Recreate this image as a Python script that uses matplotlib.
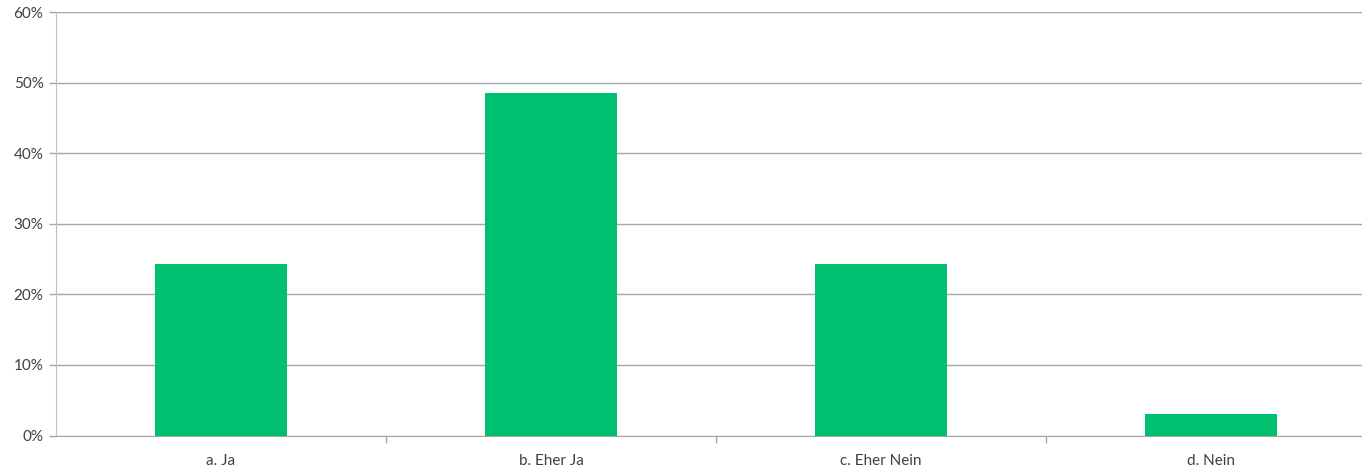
import matplotlib
matplotlib.use("Agg")
import matplotlib.pyplot as plt
from matplotlib.ticker import FuncFormatter, FixedLocator

categories = ["a. Ja", "b. Eher Ja", "c. Eher Nein", "d. Nein"]
values = [24.24, 48.48, 24.24, 3.03]

plt.rcParams['font.family'] = ['Lato', 'DejaVu Sans']

W, H = 1362, 466
fig = plt.figure(figsize=(W / 100, H / 100), dpi=100)
left, right, top, bottom = 56, 1376, 12, 435.5
ax = fig.add_axes([left / W, 1 - bottom / H, (right - left) / W, (bottom - top) / H])

x = list(range(len(categories)))
ax.bar(x, values, width=0.4, color="#00BF6F", zorder=3)
ax.set_xlim(-0.5, len(categories) - 0.5)
ax.set_ylim(0, 60)
ax.set_yticks(range(0, 61, 10))
ax.yaxis.set_major_formatter(FuncFormatter(lambda v, p: f"{int(v)}%"))
ax.grid(axis="y", color="#a6a6a6", linewidth=1, zorder=0)

ax.set_xticks(x)
ax.set_xticklabels(categories)
ax.tick_params(axis="x", length=0, pad=13, labelsize=11, colors="#404040")
ax.xaxis.set_minor_locator(FixedLocator([i + 0.5 for i in range(len(categories) - 1)]))
ax.tick_params(axis="x", which="minor", length=5, color="#a6a6a6", width=1)
ax.tick_params(axis="y", length=5, color="#a6a6a6", width=1, labelsize=11, colors="#404040", pad=4)

for s in ["top", "right"]:
    ax.spines[s].set_visible(False)
ax.spines["left"].set_color("#c0c0c0")
ax.spines["bottom"].set_color("#a6a6a6")

fig.savefig("out.png", dpi=100)
